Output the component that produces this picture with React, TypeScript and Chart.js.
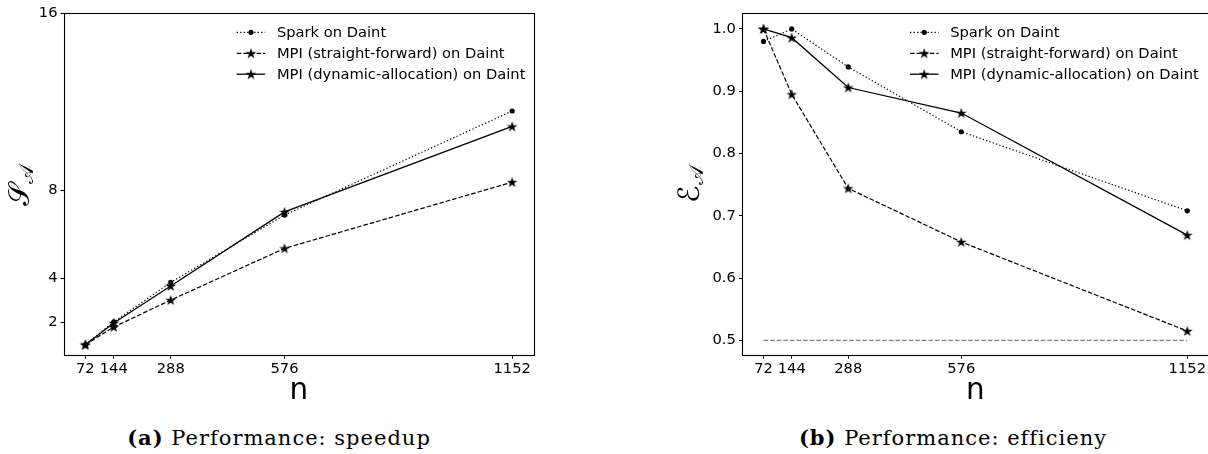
import React, { useEffect, useRef } from "react";
import { Chart, registerables } from "chart.js";

Chart.register(...registerables);

// ---------- data ----------
const nodeCounts = [72, 144, 288, 576, 1152];
const seriesLabels = [
  "Spark on Daint",
  "MPI (straight-forward) on Daint",
  "MPI (dynamic-allocation) on Daint",
];
const speedupTicks = [2, 4, 8, 16];
const efficiencyTicks = [0.5, 0.6, 0.7, 0.8, 0.9, 1.0];

const sparkSpeedup = [1.0, 2.03, 3.82, 6.87, 11.58];
const mpiStraightSpeedup = [1.0, 1.8, 3.02, 5.36, 8.36];
const mpiDynamicSpeedup = [1.0, 1.98, 3.66, 7.01, 10.88];

const sparkEfficiency = [0.98, 1.0, 0.939, 0.835, 0.708];
const mpiStraightEfficiency = [1.0, 0.895, 0.744, 0.658, 0.515];
const mpiDynamicEfficiency = [1.0, 0.986, 0.906, 0.865, 0.669];

const referenceNodes = [72, 1152];
const referenceEfficiency = [0.5, 0.5];

const xLabel = "n";
const captionA = ["(a)", "Performance: speedup"];
const captionB = ["(b)", "Performance: efficieny"];

// ---------- styles ----------
const FONT = "'DejaVu Sans', sans-serif";
const TICK_SIZE = 14.7;
const STYLES = [
  { dash: [1.3, 2.2], width: 1.2, marker: "circle" },
  { dash: [4.6, 2], width: 1.2, marker: "star" },
  { dash: [] as number[], width: 1.3, marker: "star" },
];

function makeStar(size: number): HTMLCanvasElement {
  const c = document.createElement("canvas");
  c.width = size;
  c.height = size;
  const ctx = c.getContext("2d")!;
  const cx = size / 2;
  const cy = size / 2 + 0.4;
  const R = size / 2 - 0.3;
  const r = R * 0.382;
  ctx.beginPath();
  for (let i = 0; i < 10; i++) {
    const ang = -Math.PI / 2 + (i * Math.PI) / 5;
    const rad = i % 2 === 0 ? R : r;
    const px = cx + rad * Math.cos(ang);
    const py = cy + rad * Math.sin(ang);
    if (i === 0) ctx.moveTo(px, py);
    else ctx.lineTo(px, py);
  }
  ctx.closePath();
  ctx.fillStyle = "#000";
  ctx.fill();
  return c;
}

type PanelProps = {
  canvasLeft: number;
  canvasWidth: number;
  canvasHeight: number;
  series: number[][];
  yMin: number;
  yMax: number;
  yTicks: number[];
  yDecimals: number;
  yAxisWidth: number;
  padRight: number;
  legendX: number;
  yMain: string;
  ySub: string;
  yLabelX: number;
  yLabelY: number;
  withReference?: boolean;
};

const AREA_TOP = 13.4;
const AREA_BOTTOM = 355.3;

function Panel(p: PanelProps) {
  const ref = useRef<HTMLCanvasElement>(null);
  useEffect(() => {
    const canvas = ref.current!;
    const star = makeStar(12);
    const datasets: any[] = p.series.map((vals, i) => ({
      label: seriesLabels[i],
      data: nodeCounts.map((n, j) => ({ x: n, y: vals[j] })),
      borderColor: "#000",
      backgroundColor: "#000",
      borderWidth: STYLES[i].width,
      borderDash: STYLES[i].dash,
      pointStyle: STYLES[i].marker === "circle" ? "circle" : star,
      pointRadius: STYLES[i].marker === "circle" ? 2.6 : 6,
      pointBorderWidth: 0,
      pointBackgroundColor: "#000",
      pointBorderColor: "#000",
      tension: 0,
      fill: false,
    }));
    if (p.withReference) {
      datasets.push({
        label: "reference",
        data: referenceNodes.map((n, j) => ({ x: n, y: referenceEfficiency[j] })),
        borderColor: "#808080",
        borderWidth: 1.2,
        borderDash: [4.6, 2],
        pointRadius: 0,
        fill: false,
      });
    }

    const framePlugin = {
      id: "frame",
      afterDatasetsDraw(chart: any) {
        const { ctx, chartArea } = chart;
        ctx.save();
        ctx.strokeStyle = "#000";
        ctx.lineWidth = 1.1;
        ctx.setLineDash([]);
        const l = Math.round(chartArea.left) + 0.5;
        const t = Math.round(chartArea.top) + 0.5;
        const r = Math.round(chartArea.right) + 0.5;
        const b = Math.round(chartArea.bottom) + 0.5;
        ctx.strokeRect(l, t, r - l, b - t);
        ctx.restore();
      },
    };

    const legendPlugin = {
      id: "customLegend",
      afterDraw(chart: any) {
        const { ctx } = chart;
        const rows = [32.3, 53.3, 74.2];
        ctx.save();
        for (let i = 0; i < 3; i++) {
          const y = rows[i];
          const x1 = p.legendX;
          const x2 = p.legendX + 28.5;
          ctx.strokeStyle = "#000";
          ctx.lineWidth = STYLES[i].width;
          ctx.setLineDash(STYLES[i].dash);
          ctx.beginPath();
          ctx.moveTo(x1, y);
          ctx.lineTo(x2, y);
          ctx.stroke();
          ctx.setLineDash([]);
          const mx = (x1 + x2) / 2;
          if (STYLES[i].marker === "circle") {
            ctx.fillStyle = "#000";
            ctx.beginPath();
            ctx.arc(mx, y, 2.6, 0, Math.PI * 2);
            ctx.fill();
          } else {
            ctx.drawImage(star, mx - 6, y - 6);
          }
          ctx.fillStyle = "#000";
          ctx.font = `${TICK_SIZE}px ${FONT}`;
          ctx.textBaseline = "middle";
          ctx.textAlign = "left";
          ctx.fillText(seriesLabels[i], x2 + 11.7, y + 0.5);
        }
        ctx.restore();
      },
    };

    const yLabelPlugin = {
      id: "yLabel",
      afterDraw(chart: any) {
        const { ctx } = chart;
        ctx.save();
        ctx.translate(p.yLabelX, p.yLabelY);
        ctx.rotate(-Math.PI / 2);
        ctx.fillStyle = "#000";
        ctx.textBaseline = "alphabetic";
        ctx.textAlign = "left";
        ctx.font = "29px 'DejaVu Serif', 'DejaVu Sans', serif";
        ctx.fillText(p.yMain, 0, 0);
        const w = ctx.measureText(p.yMain).width;
        ctx.font = "20px 'DejaVu Serif', 'DejaVu Sans', serif";
        ctx.fillText(p.ySub, w + 0.5, 4.5);
        ctx.restore();
      },
    };

    const chart = new Chart(canvas, {
      type: "line",
      data: { datasets },
      options: {
        responsive: false,
        animation: false,
        events: [],
        layout: { padding: { top: AREA_TOP, right: p.padRight, left: 0, bottom: 0 } },
        plugins: { legend: { display: false }, tooltip: { enabled: false } },
        scales: {
          x: {
            type: "linear",
            min: 18,
            max: 1206,
            afterBuildTicks: (s: any) => {
              s.ticks = nodeCounts.map((v) => ({ value: v }));
            },
            afterFit: (s: any) => {
              s.height = p.canvasHeight - AREA_BOTTOM;
            },
            ticks: {
              autoSkip: false,
              maxRotation: 0,
              font: { family: FONT, size: TICK_SIZE },
              color: "#000",
              padding: 2,
              callback: (v: any) => String(v),
            },
            grid: {
              drawOnChartArea: false,
              drawTicks: true,
              tickLength: 3.5,
              color: "#000",
              lineWidth: 1,
            },
            border: { display: false },
            title: {
              display: true,
              text: xLabel,
              color: "#000",
              font: { family: FONT, size: 29.4 },
              padding: { top: 0, bottom: 11.4 },
            },
          },
          y: {
            type: "linear",
            min: p.yMin,
            max: p.yMax,
            afterBuildTicks: (s: any) => {
              s.ticks = p.yTicks.map((v) => ({ value: v }));
            },
            afterFit: (s: any) => {
              s.width = p.yAxisWidth;
            },
            ticks: {
              autoSkip: false,
              font: { family: FONT, size: TICK_SIZE },
              color: "#000",
              padding: 3,
              callback: (v: any) => Number(v).toFixed(p.yDecimals),
            },
            grid: {
              drawOnChartArea: false,
              drawTicks: true,
              tickLength: 3.5,
              color: "#000",
              lineWidth: 1,
            },
            border: { display: false },
          },
        },
      } as any,
      plugins: [framePlugin, legendPlugin, yLabelPlugin],
    });
    return () => chart.destroy();
  }, []);
  return (
    <canvas
      ref={ref}
      width={p.canvasWidth}
      height={p.canvasHeight}
      style={{
        position: "absolute",
        left: p.canvasLeft,
        top: 0,
        width: p.canvasWidth,
        height: p.canvasHeight,
      }}
    />
  );
}

function Caption({ parts, center }: { parts: string[]; center: number }) {
  return (
    <div
      style={{
        position: "absolute",
        left: center - 250,
        width: 500,
        top: 426,
        textAlign: "center",
        fontFamily: "'DejaVu Serif', serif",
        fontSize: 21,
        lineHeight: "24px",
        letterSpacing: 1,
        color: "#000",
        whiteSpace: "nowrap",
      }}
    >
      <b>{parts[0]}</b> {parts[1]}
    </div>
  );
}

export default function App() {
  return (
    <div
      style={{
        position: "absolute",
        left: 0,
        top: 0,
        width: 1208,
        height: 454,
        overflow: "hidden",
        background: "#fff",
      }}
    >
      <Panel
        canvasLeft={0}
        canvasWidth={560}
        canvasHeight={420}
        series={[sparkSpeedup, mpiStraightSpeedup, mpiDynamicSpeedup]}
        yMin={0.52}
        yMax={16}
        yTicks={speedupTicks}
        yDecimals={0}
        yAxisWidth={64}
        padRight={26.5}
        legendX={236.7}
        yMain={"\u{1D4AE}"}
        ySub={"\u{1D49C}"}
        yLabelX={28.5}
        yLabelY={206}
      />
      <Panel
        canvasLeft={640}
        canvasWidth={600}
        canvasHeight={420}
        series={[sparkEfficiency, mpiStraightEfficiency, mpiDynamicEfficiency]}
        yMin={0.476}
        yMax={1.025}
        yTicks={efficiencyTicks}
        yDecimals={1}
        yAxisWidth={102.3}
        padRight={31.5}
        legendX={270}
        yMain={"\u2130"}
        ySub={"\u{1D49C}"}
        yLabelX={58.5}
        yLabelY={203}
        withReference
      />
      <Caption parts={captionA} center={279} />
      <Caption parts={captionB} center={953} />
    </div>
  );
}
